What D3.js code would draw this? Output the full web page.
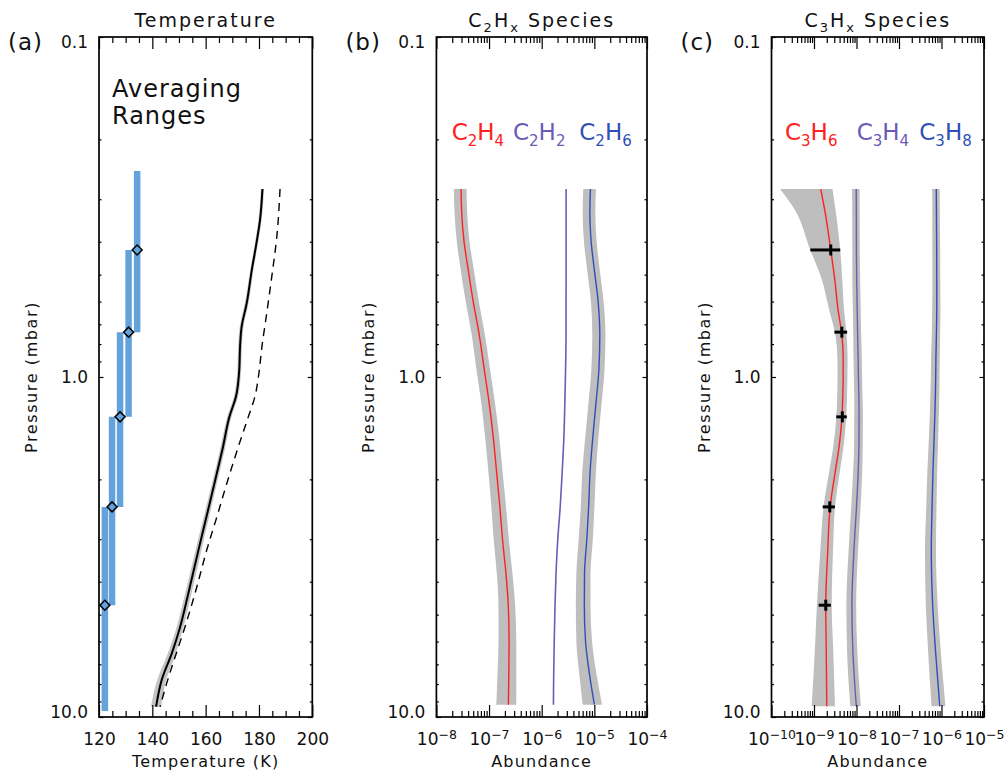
<!DOCTYPE html>
<html>
<head>
<meta charset="utf-8">
<script src="https://cdn.jsdelivr.net/npm/d3@7"></script>
<style>
  body { margin: 0; background: #fff; }
  text { font-family: "DejaVu Sans", sans-serif; fill: #111; }
</style>
</head>
<body>
<svg id="chart" width="1006" height="773"></svg>
<script>
// ---- Panel (a): temperature ----
var avgPress = [0.423, 0.738, 1.31, 2.41, 4.69];
var avgTemp = [134.3, 131.1, 127.9, 124.9, 122.2];
var avgTop = [0.248, 0.423, 0.738, 1.31, 2.41];
var avgBottom = [0.738, 1.31, 2.41, 4.69, 9.6];

var tempPress = [0.280, 0.345, 0.398, 0.485, 0.607, 0.711, 0.815, 0.953, 1.14, 1.31, 1.62, 1.92, 2.52, 3.23, 4.33, 5.55, 6.50, 7.79, 9.33];
var tempRetrieved = [181.3, 180.4, 179.2, 177.3, 175.4, 173.5, 172.9, 172.6, 171.4, 168.9, 166.4, 164.2, 160.6, 157.3, 153.5, 150.1, 147.3, 143.5, 141.4];
var tempErr = [0.6, 0.6, 0.6, 0.6, 0.7, 0.7, 0.7, 0.7, 0.8, 0.8, 0.9, 0.9, 1.0, 1.1, 1.2, 1.3, 1.5, 1.7, 1.9];

var priorPress = [0.280, 0.386, 0.507, 0.650, 0.815, 0.998, 1.14, 1.31, 1.60, 2.06, 2.58, 3.23, 4.14, 5.42, 6.64, 7.95, 9.33];
var priorTemp = [187.9, 186.7, 184.8, 182.9, 181.1, 179.8, 178.5, 176.0, 172.3, 167.9, 164.2, 160.4, 156.7, 152.3, 148.6, 145.4, 142.9];

var tempTicks = [120, 140, 160, 180, 200];

// ---- Panel (b): C2Hx species ----
var c2Press = [0.28, 0.33, 0.40, 0.485, 0.60, 0.75, 0.95, 1.2, 1.5, 1.9, 2.4, 3.0, 3.8, 4.7, 6.0, 7.5, 9.2];
var c2h4 = [2.94e-8, 3.03e-8, 3.35e-8, 4.03e-8, 5.0e-8, 6.5e-8, 8.1e-8, 1.01e-7, 1.2e-7, 1.39e-7, 1.6e-7, 1.8e-7, 2.1e-7, 2.32e-7, 2.4e-7, 2.37e-7, 2.33e-7];
var c2h4Err = [0.27, 0.27, 0.27, 0.28, 0.28, 0.28, 0.29, 0.29, 0.30, 0.30, 0.31, 0.32, 0.33, 0.35, 0.37, 0.39, 0.41];
var c2h2 = [2.91e-6, 2.91e-6, 2.91e-6, 2.91e-6, 2.9e-6, 2.9e-6, 2.84e-6, 2.75e-6, 2.64e-6, 2.45e-6, 2.25e-6, 2.02e-6, 1.87e-6, 1.79e-6, 1.73e-6, 1.69e-6, 1.67e-6];
var c2h6 = [8.43e-6, 8.22e-6, 8.7e-6, 1.0e-5, 1.18e-5, 1.27e-5, 1.22e-5, 1.07e-5, 9.36e-6, 8.3e-6, 7.8e-6, 7.19e-6, 6.5e-6, 6.45e-6, 6.8e-6, 8.1e-6, 1.0e-5];
var c2h6Err = [0.27, 0.27, 0.27, 0.27, 0.27, 0.28, 0.28, 0.28, 0.28, 0.29, 0.29, 0.30, 0.30, 0.31, 0.33, 0.36, 0.40];

// ---- Panel (c): C3Hx species ----
var c3Press = [0.28, 0.323, 0.423, 0.519, 0.636, 0.739, 0.871, 1.0, 1.17, 1.31, 1.6, 1.88, 2.41, 3.23, 4.69, 6.35, 9.3];
var c3h6 = [1.44e-9, 1.79e-9, 2.48e-9, 3.09e-9, 3.69e-9, 4.44e-9, 4.85e-9, 4.85e-9, 4.72e-9, 4.55e-9, 3.9e-9, 3.2e-9, 2.4e-9, 2.11e-9, 1.89e-9, 1.94e-9, 2.0e-9];
var c3h6Err = [0.89, 0.80, 0.67, 0.50, 0.38, 0.30, 0.27, 0.26, 0.26, 0.26, 0.27, 0.28, 0.30, 0.33, 0.38, 0.46, 0.56];
var c3h4 = [9.85e-9, 9.9e-9, 9.96e-9, 1.01e-8, 1.04e-8, 1.06e-8, 1.09e-8, 1.11e-8, 1.14e-8, 1.15e-8, 1.14e-8, 1.1e-8, 1.0e-8, 8.7e-9, 7.8e-9, 8.2e-9, 9.9e-9];
var c3h4Err = [0.20, 0.20, 0.20, 0.21, 0.21, 0.21, 0.22, 0.22, 0.22, 0.23, 0.23, 0.24, 0.25, 0.25, 0.26, 0.27, 0.28];
var c3h8 = [7.53e-7, 7.6e-7, 7.7e-7, 7.74e-7, 7.74e-7, 7.6e-7, 7.4e-7, 7.3e-7, 7.13e-7, 6.95e-7, 6.6e-7, 6.3e-7, 6.0e-7, 5.75e-7, 6.2e-7, 7.2e-7, 9.1e-7];
var c3h8Err = [0.20, 0.20, 0.21, 0.21, 0.22, 0.22, 0.23, 0.23, 0.24, 0.24, 0.25, 0.26, 0.27, 0.29, 0.31, 0.33, 0.36];

// retrieved C3H6 points with errors
var c3h6PtPress = [0.423, 0.738, 1.31, 2.41, 4.69];
var c3h6PtVal = [2.48e-9, 4.52e-9, 4.64e-9, 2.35e-9, 1.89e-9];
var c3h6PtErr = [1.66e-9, 1.5e-9, 1.3e-9, 0.75e-9, 0.6e-9];

var c2Decades = [-8, -7, -6, -5, -4];
var c3Decades = [-10, -9, -8, -7, -6, -5];
var pressTicks = [0.1, 1, 10];

//Define colours
var blueBar = "#64a2db", gray = "#bebebe";
var red = "#ff2020", purple = "#6b5ab8", blue = "#2f4fb6";

var svg = d3.select("#chart");
var yTop = 37, yBot = 717;
var y = d3.scaleLog().domain([0.1, 10]).range([yTop, yBot]);

var xa = d3.scaleLinear().domain([120, 200]).range([99, 312.3]);
var xb = d3.scaleLog().domain([1e-8, 1e-4]).range([436.4, 647]);
var xc = d3.scaleLog().domain([1e-10, 1e-5]).range([771.5, 984]);

var noLabel = function () { return ""; };

// text with "_x" subscripts
function rich(sel, str, subSize, shift) {
  var parts = [];
  for (var i = 0; i < str.length; i++) {
    if (str[i] === "_") { parts.push({ t: str[i + 1], sub: true }); i++; }
    else if (parts.length && !parts[parts.length - 1].sub) parts[parts.length - 1].t += str[i];
    else parts.push({ t: str[i], sub: false });
  }
  var cur = 0;
  parts.forEach(function (p) {
    var dy = (p.sub ? shift : 0) - cur;
    cur = p.sub ? shift : 0;
    var ts = sel.append("tspan").attr("dy", dy).text(p.t);
    if (p.sub) ts.attr("font-size", subSize);
  });
  return sel;
}

function logMinor(decades) {
  var m = [];
  for (var i = 0; i < decades.length - 1; i++)
    for (var k = 2; k <= 9; k++) m.push(k * Math.pow(10, decades[i]));
  return m;
}

function frame(x, xMajor, xMinor, xFmt, isLog) {
  var g = svg.append("g").attr("color", "#000");
  var x0 = x.range()[0], x1 = x.range()[1];
  var yMinor = [0.2, 0.3, 0.4, 0.5, 0.6, 0.7, 0.8, 0.9, 2, 3, 4, 5, 6, 7, 8, 9];

  var gb = g.append("g").attr("transform", "translate(0," + yBot + ")");
  gb.call(d3.axisBottom(x).tickValues(xMajor).tickSize(-12).tickPadding(16).tickFormat(xFmt));
  g.append("g").attr("transform", "translate(0," + yBot + ")")
    .call(d3.axisBottom(x).tickValues(xMinor).tickSize(-6).tickFormat(noLabel));
  g.append("g").attr("transform", "translate(0," + yTop + ")")
    .call(d3.axisTop(x).tickValues(xMajor).tickSize(-12).tickFormat(noLabel));
  g.append("g").attr("transform", "translate(0," + yTop + ")")
    .call(d3.axisTop(x).tickValues(xMinor).tickSize(-6).tickFormat(noLabel));

  var gl = g.append("g").attr("transform", "translate(" + x0 + ",0)");
  gl.call(d3.axisLeft(y).tickValues(pressTicks).tickSize(-4.5).tickPadding(11).tickFormat(d3.format(".1f")));
  g.append("g").attr("transform", "translate(" + x0 + ",0)")
    .call(d3.axisLeft(y).tickValues(yMinor).tickSize(-2.5).tickFormat(noLabel));
  g.append("g").attr("transform", "translate(" + x1 + ",0)")
    .call(d3.axisRight(y).tickValues(pressTicks).tickSize(-4.5).tickFormat(noLabel));
  g.append("g").attr("transform", "translate(" + x1 + ",0)")
    .call(d3.axisRight(y).tickValues(yMinor).tickSize(-2.5).tickFormat(noLabel));

  g.selectAll(".domain").remove();
  g.selectAll(".tick line").attr("stroke-width", 1.2);
  g.selectAll("g").attr("font-size", 17).attr("font-family", null);
  // first / last pressure labels sit inside the frame
  gl.selectAll(".tick text").attr("dy", function (d) { return d === 0.1 ? "0.62em" : d === 10 ? "0.05em" : "0.32em"; });

  if (isLog) {
    gb.selectAll(".tick text").each(function (d) {
      var t = d3.select(this).text(null);
      t.append("tspan").text("10");
      t.append("tspan").attr("dy", "-0.5em").attr("font-size", 12.5).text("\u2212" + Math.abs(Math.round(Math.log10(d))));
    });
  }

  g.append("rect").attr("x", x0).attr("y", yTop).attr("width", x1 - x0).attr("height", yBot - yTop)
    .attr("fill", "none").attr("stroke", "#000").attr("stroke-width", 1.7);
  return g;
}

function labels(x, letter, title, xTitle) {
  var x0 = x.range()[0], x1 = x.range()[1];
  svg.append("text").attr("x", x0 - 91).attr("y", 50).attr("font-size", 23).attr("letter-spacing", 1).text(letter);
  rich(svg.append("text").attr("x", (x0 + x1) / 2).attr("y", 26.5).attr("text-anchor", "middle")
    .attr("font-size", 19).attr("letter-spacing", 2), title, 13, 5);
  svg.append("text").attr("x", (x0 + x1) / 2).attr("y", 767).attr("text-anchor", "middle")
    .attr("font-size", 16).attr("letter-spacing", 1.2).text(xTitle);
  svg.append("text").attr("transform", "translate(" + (x0 - 62) + ",377) rotate(-90)")
    .attr("text-anchor", "middle").attr("font-size", 16).attr("letter-spacing", 1.6).text("Pressure (mbar)");
}

function profile(x, press, vals, relErr, color, width) {
  var rows = press.map(function (p, i) { return { p: p, v: vals[i], e: relErr ? relErr[i] : 0 }; });
  if (relErr) {
    svg.append("path").datum(rows).attr("fill", gray)
      .attr("d", d3.area().curve(d3.curveMonotoneY).y(function (d) { return y(d.p); })
        .x0(function (d) { return x(d.v * (1 - d.e)); }).x1(function (d) { return x(d.v * (1 + d.e)); }));
  }
  svg.append("path").datum(rows).attr("fill", "none").attr("stroke", color).attr("stroke-width", width)
    .attr("d", d3.line().curve(d3.curveMonotoneY).y(function (d) { return y(d.p); }).x(function (d) { return x(d.v); }));
}

// ---------- panel (a) ----------
var tRows = tempPress.map(function (p, i) { return { p: p, v: tempRetrieved[i], e: tempErr[i] }; });
svg.append("path").datum(tRows).attr("fill", "#c4c4c4")
  .attr("d", d3.area().curve(d3.curveMonotoneY).y(function (d) { return y(d.p); })
    .x0(function (d) { return xa(d.v - d.e); }).x1(function (d) { return xa(d.v + d.e); }));
svg.append("path").datum(tRows).attr("fill", "none").attr("stroke", "#000").attr("stroke-width", 2)
  .attr("d", d3.line().curve(d3.curveMonotoneY).y(function (d) { return y(d.p); }).x(function (d) { return xa(d.v); }));
svg.append("path").datum(priorPress.map(function (p, i) { return { p: p, v: priorTemp[i] }; }))
  .attr("fill", "none").attr("stroke", "#000").attr("stroke-width", 1.4).attr("stroke-dasharray", "8,6")
  .attr("d", d3.line().curve(d3.curveMonotoneY).y(function (d) { return y(d.p); }).x(function (d) { return xa(d.v); }));

svg.selectAll(".avgbar").data(avgPress).enter().append("line").attr("class", "avgbar")
  .attr("x1", function (d, i) { return xa(avgTemp[i]); }).attr("x2", function (d, i) { return xa(avgTemp[i]); })
  .attr("y1", function (d, i) { return y(avgTop[i]); }).attr("y2", function (d, i) { return y(avgBottom[i]); })
  .attr("stroke", blueBar).attr("stroke-width", 6.5);
svg.selectAll(".avgpt").data(avgPress).enter().append("path").attr("class", "avgpt")
  .attr("d", d3.symbol(d3.symbolSquare, 50))
  .attr("transform", function (d, i) { return "translate(" + xa(avgTemp[i]) + "," + y(d) + ") rotate(45)"; })
  .attr("fill", blueBar).attr("stroke", "#000").attr("stroke-width", 1.5);

svg.append("text").attr("x", 112).attr("y", 97).attr("font-size", 24).attr("letter-spacing", 1).text("Averaging");
svg.append("text").attr("x", 112).attr("y", 123.5).attr("font-size", 24).attr("letter-spacing", 1).text("Ranges");

frame(xa, tempTicks, d3.range(120, 201, 5).filter(function (t) { return t % 20; }), d3.format("d"), false);
labels(xa, "(a)", "Temperature", "Temperature (K)");

// ---------- panel (b) ----------
profile(xb, c2Press, c2h4, c2h4Err, red, 1.4);
profile(xb, c2Press, c2h2, null, purple, 1.6);
profile(xb, c2Press, c2h6, c2h6Err, blue, 1.4);
frame(xb, c2Decades.map(function (e) { return Math.pow(10, e); }), logMinor(c2Decades), null, true);
labels(xb, "(b)", "C_2H_x Species", "Abundance");

var legB = [["C_2H_4", red, 451.7], ["C_2H_2", purple, 513], ["C_2H_6", blue, 579.3]];
legB.forEach(function (l) {
  rich(svg.append("text").attr("x", l[2]).attr("y", 139.5).attr("font-size", 23).style("fill", l[1]), l[0], 15, 6);
});

// ---------- panel (c) ----------
profile(xc, c3Press, c3h6, c3h6Err, red, 1.4);
profile(xc, c3Press, c3h4, c3h4Err, purple, 1.4);
profile(xc, c3Press, c3h8, c3h8Err, blue, 1.4);

var pts = svg.append("g").attr("stroke", "#000").attr("stroke-width", 3);
c3h6PtPress.forEach(function (p, i) {
  var cx = xc(c3h6PtVal[i]), cy = y(p);
  pts.append("line").attr("x1", xc(c3h6PtVal[i] - c3h6PtErr[i])).attr("x2", xc(c3h6PtVal[i] + c3h6PtErr[i]))
    .attr("y1", cy).attr("y2", cy);
  pts.append("line").attr("x1", cx).attr("x2", cx).attr("y1", cy - 5.5).attr("y2", cy + 5.5);
});

frame(xc, c3Decades.map(function (e) { return Math.pow(10, e); }), logMinor(c3Decades), null, true);
labels(xc, "(c)", "C_3H_x Species", "Abundance");

var legC = [["C_3H_6", red, 785], ["C_3H_4", purple, 856.7], ["C_3H_8", blue, 919.3]];
legC.forEach(function (l) {
  rich(svg.append("text").attr("x", l[2]).attr("y", 139.5).attr("font-size", 23).style("fill", l[1]), l[0], 15, 6);
});
</script>
</body>
</html>
